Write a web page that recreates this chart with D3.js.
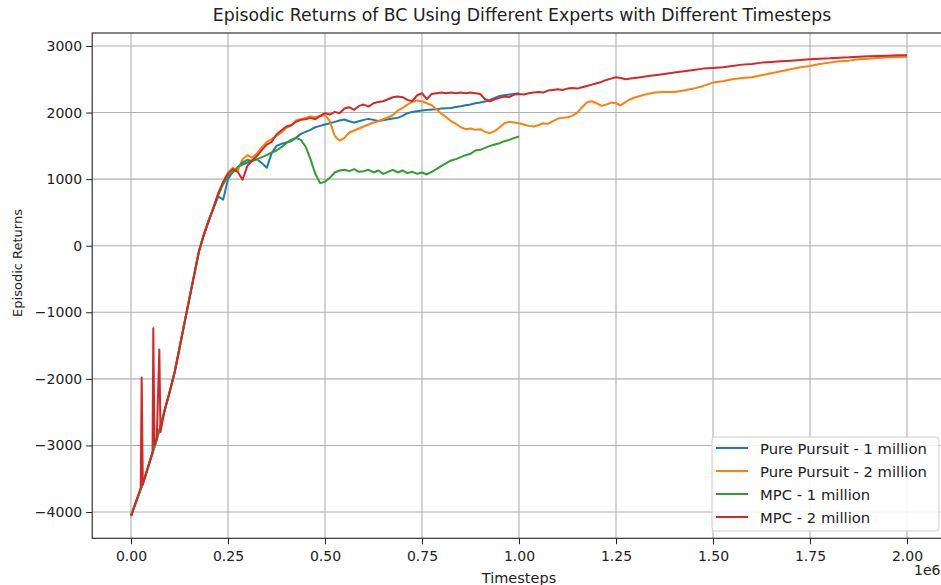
<!DOCTYPE html>
<html>
<head>
<meta charset="utf-8">
<script src="https://cdn.jsdelivr.net/npm/d3@7"></script>
<style>
  body { margin: 0; background: #fff; }
  svg { display: block; font-family: "DejaVu Sans", sans-serif; }
</style>
</head>
<body>
<svg id="chart"></svg>
<script>
// timesteps in millions, returns
const ppOneMillion = [
  [0,-4060],[0.0125,-3860],[0.025,-3660],[0.0375,-3450],[0.05,-3210],[0.0625,-2990],[0.075,-2730],[0.0875,-2460],
  [0.1,-2190],[0.1125,-1900],[0.125,-1540],[0.1375,-1170],[0.15,-810],[0.1625,-450],[0.175,-90],[0.1875,160],
  [0.2,370],[0.2125,560],[0.225,740],[0.2375,690],[0.25,1000],[0.2625,1110],[0.275,1180],[0.2875,1220],
  [0.3,1250],[0.3125,1280],[0.325,1300],[0.3375,1240],[0.35,1170],[0.3625,1390],[0.375,1500],[0.3875,1530],
  [0.4,1550],[0.4125,1570],[0.425,1620],[0.4375,1680],[0.45,1710],[0.4625,1740],[0.475,1780],[0.4875,1800],
  [0.5,1820],[0.5125,1840],[0.525,1860],[0.5375,1880],[0.55,1895],[0.5625,1870],[0.575,1850],[0.5875,1870],
  [0.6,1890],[0.6125,1905],[0.625,1890],[0.6375,1875],[0.65,1885],[0.6625,1900],[0.675,1910],[0.6875,1920],
  [0.7,1950],[0.7125,1990],[0.725,2010],[0.7375,2020],[0.75,2030],[0.7625,2040],[0.775,2045],[0.7875,2050],
  [0.8,2060],[0.8125,2065],[0.825,2070],[0.8375,2085],[0.85,2095],[0.8625,2110],[0.875,2120],[0.8875,2140],
  [0.9,2150],[0.9125,2165],[0.925,2190],[0.9375,2220],[0.95,2250],[0.9625,2260],[0.975,2270],[0.9875,2280],[1.0,2290]
];

const ppTwoMillion = [
  [0,-4050],[0.0125,-3850],[0.025,-3650],[0.0375,-3440],[0.05,-3200],[0.0625,-2980],[0.075,-2720],[0.0875,-2450],
  [0.1,-2180],[0.1125,-1890],[0.125,-1530],[0.1375,-1160],[0.15,-800],[0.1625,-440],[0.175,-80],[0.1875,170],
  [0.2,380],[0.2125,570],[0.225,780],[0.2375,950],[0.25,1100],[0.2625,1170],[0.275,1120],[0.2875,1300],
  [0.3,1360],[0.3125,1320],[0.325,1390],[0.3375,1480],[0.35,1560],[0.3625,1600],[0.375,1650],[0.3875,1700],
  [0.4,1770],[0.4125,1800],[0.425,1880],[0.4375,1900],[0.45,1920],[0.4625,1940],[0.475,1930],[0.4875,1950],
  [0.5,1960],[0.5125,1870],[0.525,1650],[0.5375,1580],[0.55,1620],[0.5625,1700],[0.575,1730],[0.5875,1760],
  [0.6,1790],[0.6125,1820],[0.625,1850],[0.6375,1870],[0.65,1900],[0.6625,1930],[0.675,1960],[0.6875,2030],
  [0.7,2070],[0.7125,2120],[0.725,2160],[0.7375,2180],[0.75,2170],[0.7625,2140],[0.775,2110],[0.7875,2050],
  [0.8,1980],[0.8125,1930],[0.825,1870],[0.8375,1830],[0.85,1780],[0.8625,1750],[0.875,1760],[0.8875,1740],
  [0.9,1750],[0.9125,1710],[0.925,1690],[0.9375,1720],[0.95,1780],[0.9625,1840],[0.975,1860],[0.9875,1850],
  [1.0,1840],[1.0125,1820],[1.025,1800],[1.0375,1790],[1.05,1810],[1.0625,1840],[1.075,1830],[1.0875,1870],
  [1.1,1910],[1.1125,1920],[1.125,1930],[1.1375,1950],[1.15,2000],[1.1625,2080],[1.175,2150],[1.1875,2170],
  [1.2,2140],[1.2125,2100],[1.225,2120],[1.2375,2150],[1.25,2140],[1.2625,2110],[1.275,2160],[1.2875,2200],
  [1.3,2230],[1.3125,2250],[1.325,2270],[1.35,2300],[1.375,2310],[1.4,2310],[1.425,2330],[1.45,2360],
  [1.475,2400],[1.5,2450],[1.525,2470],[1.55,2500],[1.575,2520],[1.6,2530],[1.625,2560],[1.65,2590],
  [1.675,2620],[1.7,2650],[1.725,2680],[1.75,2700],[1.775,2730],[1.8,2750],[1.825,2770],[1.85,2780],
  [1.875,2800],[1.9,2810],[1.925,2820],[1.95,2830],[1.975,2835],[2.0,2840]
];

const mpcOneMillion = [
  [0,-4060],[0.0125,-3860],[0.025,-3660],[0.0375,-3450],[0.05,-3210],[0.0625,-2990],[0.075,-2730],[0.0875,-2460],
  [0.1,-2190],[0.1125,-1900],[0.125,-1540],[0.1375,-1170],[0.15,-810],[0.1625,-450],[0.175,-90],[0.1875,160],
  [0.2,370],[0.2125,570],[0.225,760],[0.2375,920],[0.25,1050],[0.2625,1100],[0.275,1180],[0.2875,1250],
  [0.3,1290],[0.3125,1270],[0.325,1300],[0.3375,1330],[0.35,1360],[0.3625,1400],[0.375,1430],[0.3875,1480],
  [0.4,1540],[0.4125,1590],[0.425,1620],[0.4375,1590],[0.45,1490],[0.4625,1300],[0.475,1080],[0.4875,940],
  [0.5,960],[0.5125,1020],[0.525,1100],[0.5375,1130],[0.55,1140],[0.5625,1120],[0.575,1150],[0.5875,1110],
  [0.6,1120],[0.6125,1140],[0.625,1100],[0.6375,1130],[0.65,1080],[0.6625,1110],[0.675,1140],[0.6875,1100],
  [0.7,1130],[0.7125,1090],[0.725,1110],[0.7375,1080],[0.75,1100],[0.7625,1070],[0.775,1110],[0.7875,1150],
  [0.8,1200],[0.8125,1240],[0.825,1280],[0.8375,1300],[0.85,1330],[0.8625,1360],[0.875,1380],[0.8875,1430],
  [0.9,1440],[0.9125,1470],[0.925,1500],[0.9375,1520],[0.95,1540],[0.9625,1570],[0.975,1590],[0.9875,1620],[1.0,1640]
];

const mpcTwoMillion = [
  [0,-4060],[0.0125,-3850],[0.025,-3640],[0.0275,-1980],[0.0305,-3590],[0.0375,-3450],[0.05,-3220],[0.0555,-3110],
  [0.0575,-1240],[0.0605,-2990],[0.0665,-2880],[0.073,-1560],[0.076,-2800],[0.0875,-2450],
  [0.1,-2190],[0.1125,-1900],[0.125,-1540],[0.1375,-1170],[0.15,-810],[0.1625,-450],[0.175,-90],[0.1875,160],
  [0.2,370],[0.2125,570],[0.225,790],[0.2375,960],[0.25,1080],[0.2625,1150],[0.275,1110],[0.2875,990],
  [0.3,1200],[0.3125,1280],[0.325,1350],[0.3375,1440],[0.35,1520],[0.3625,1560],[0.375,1670],[0.3875,1730],
  [0.4,1790],[0.4125,1810],[0.425,1860],[0.4375,1890],[0.45,1900],[0.4625,1920],[0.475,1900],[0.4875,1950],
  [0.5,1990],[0.5125,1970],[0.525,2010],[0.5375,1990],[0.55,2060],[0.5625,2080],[0.575,2040],[0.5875,2100],
  [0.6,2120],[0.6125,2090],[0.625,2140],[0.6375,2160],[0.65,2170],[0.6625,2200],[0.675,2230],[0.6875,2240],
  [0.7,2230],[0.7125,2190],[0.725,2170],[0.7375,2260],[0.75,2290],[0.7625,2200],[0.775,2280],[0.7875,2290],
  [0.8,2300],[0.8125,2290],[0.825,2300],[0.8375,2290],[0.85,2300],[0.8625,2290],[0.875,2300],[0.8875,2290],
  [0.9,2280],[0.9125,2200],[0.925,2170],[0.9375,2200],[0.95,2220],[0.9625,2240],[0.975,2230],[0.9875,2270],
  [1.0,2280],[1.0125,2270],[1.025,2290],[1.0375,2300],[1.05,2310],[1.0625,2300],[1.075,2330],[1.0875,2340],
  [1.1,2350],[1.1125,2340],[1.125,2360],[1.1375,2370],[1.15,2360],[1.1625,2380],[1.175,2400],[1.1875,2420],
  [1.2,2440],[1.2125,2460],[1.225,2490],[1.2375,2510],[1.25,2530],[1.2625,2520],[1.275,2500],[1.2875,2510],
  [1.3,2520],[1.325,2540],[1.35,2560],[1.375,2580],[1.4,2600],[1.425,2620],[1.45,2640],[1.475,2660],
  [1.5,2670],[1.525,2680],[1.55,2700],[1.575,2720],[1.6,2730],[1.625,2750],[1.65,2760],[1.675,2770],
  [1.7,2780],[1.725,2790],[1.75,2800],[1.775,2810],[1.8,2815],[1.825,2825],[1.85,2830],[1.875,2840],
  [1.9,2845],[1.925,2850],[1.95,2855],[1.975,2860],[2.0,2860]
];

const seriesNames = ["Pure Pursuit - 1 million", "Pure Pursuit - 2 million", "MPC - 1 million", "MPC - 2 million"];
const seriesColors = ["#1f77b4", "#ff7f0e", "#2ca02c", "#d62728"];
const xTicks = [0, 0.25, 0.5, 0.75, 1.0, 1.25, 1.5, 1.75, 2.0];
const yTicks = [-4000, -3000, -2000, -1000, 0, 1000, 2000, 3000];

const width = 941, height = 585;
const svg = d3.select("#chart").attr("width", width).attr("height", height);

const plotLeft = 92.2, plotRight = 945.8, plotTop = 33, plotBottom = 538.3;
const x = d3.scaleLinear().domain([-0.1, 2.1]).range([plotLeft, plotRight]);
const y = d3.scaleLinear().domain([-4395, 3195]).range([plotBottom, plotTop]);

// grid
svg.append("g")
  .selectAll("line")
  .data(xTicks)
  .join("line")
  .attr("x1", d => x(d)).attr("x2", d => x(d))
  .attr("y1", plotTop).attr("y2", plotBottom)
  .attr("stroke", "#b0b0b0").attr("stroke-width", 1.1);

svg.append("g")
  .selectAll("line")
  .data(yTicks)
  .join("line")
  .attr("x1", plotLeft).attr("x2", plotRight)
  .attr("y1", d => y(d)).attr("y2", d => y(d))
  .attr("stroke", "#b0b0b0").attr("stroke-width", 1.1);

// lines
const allSeries = [ppOneMillion, ppTwoMillion, mpcOneMillion, mpcTwoMillion];
const line = d3.line().x(d => x(d[0])).y(d => y(d[1]));

svg.append("g")
  .selectAll("path")
  .data(allSeries)
  .join("path")
  .attr("d", line)
  .attr("fill", "none")
  .attr("stroke", (_, i) => seriesColors[i])
  .attr("stroke-width", 2)
  .attr("stroke-linejoin", "round");

// axes
const xAxis = svg.append("g")
  .attr("transform", `translate(0,${plotBottom})`)
  .call(d3.axisBottom(x).tickValues(xTicks).tickFormat(d3.format(".2f")).tickSize(6).tickPadding(7));
const yAxis = svg.append("g")
  .attr("transform", `translate(${plotLeft},0)`)
  .call(d3.axisLeft(y).tickValues(yTicks).tickFormat(d => d < 0 ? "\u2212" + Math.abs(d) : d).tickSize(6).tickPadding(4));

[xAxis, yAxis].forEach(a => {
  a.select(".domain").remove();
  a.selectAll("line").attr("stroke", "#222").attr("stroke-width", 1);
  a.selectAll("text").attr("fill", "#222").attr("font-size", "14px")
    .attr("font-family", "DejaVu Sans, sans-serif");
});

// frame
svg.append("rect")
  .attr("x", plotLeft).attr("y", plotTop)
  .attr("width", plotRight - plotLeft).attr("height", plotBottom - plotTop)
  .attr("fill", "none").attr("stroke", "#222").attr("stroke-width", 1.1);

// texts
svg.append("text")
  .attr("x", 522).attr("y", 21)
  .attr("text-anchor", "middle")
  .attr("font-size", "17.3px").attr("fill", "#222")
  .text("Episodic Returns of BC Using Different Experts with Different Timesteps");

svg.append("text")
  .attr("x", 519).attr("y", 583)
  .attr("text-anchor", "middle")
  .attr("font-size", "14.5px").attr("fill", "#222")
  .text("Timesteps");

svg.append("text")
  .attr("transform", "translate(22,263) rotate(-90)")
  .attr("text-anchor", "middle")
  .attr("font-size", "13px").attr("fill", "#222")
  .text("Episodic Returns");

svg.append("text")
  .attr("x", 914).attr("y", 575)
  .attr("font-size", "14px").attr("fill", "#222")
  .text("1e6");

// legend
const legend = svg.append("g").attr("transform", "translate(712,437)");
legend.append("rect")
  .attr("width", 227).attr("height", 94).attr("rx", 3)
  .attr("fill", "#fff").attr("fill-opacity", 0.85)
  .attr("stroke", "#d0d0d0");

const item = legend.selectAll("g")
  .data(seriesNames)
  .join("g")
  .attr("transform", (_, i) => `translate(0,${11 + i * 23})`);

item.append("line")
  .attr("x1", 4).attr("x2", 36)
  .attr("stroke", (_, i) => seriesColors[i])
  .attr("stroke-width", 2);

item.append("text")
  .attr("x", 48).attr("y", 5.5)
  .attr("font-size", "14.8px").attr("fill", "#222")
  .text(d => d);
</script>
</body>
</html>
